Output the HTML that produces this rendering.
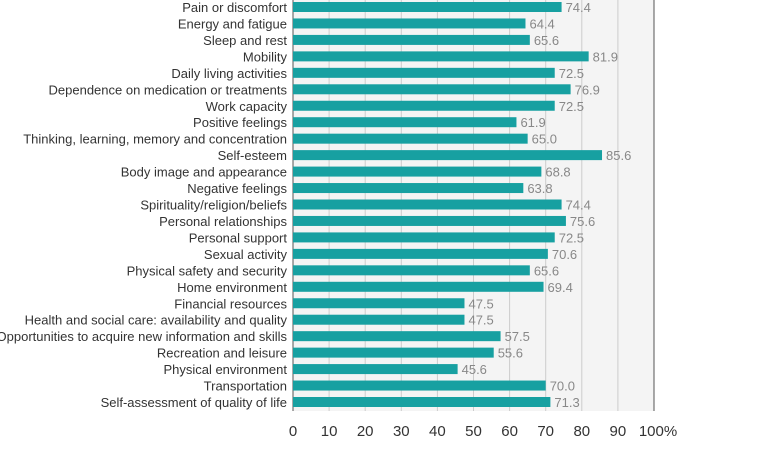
<!DOCTYPE html>
<html><head><meta charset="utf-8"><style>
body{margin:0;background:#fff;}
svg text{font-family:"Liberation Sans",sans-serif;}
</style></head><body>
<svg id="c" width="771" height="451"></svg>
<script>
const categories=["Pain or discomfort","Energy and fatigue","Sleep and rest","Mobility","Daily living activities","Dependence on medication or treatments","Work capacity","Positive feelings","Thinking, learning, memory and concentration","Self-esteem","Body image and appearance","Negative feelings","Spirituality/religion/beliefs","Personal relationships","Personal support","Sexual activity","Physical safety and security","Home environment","Financial resources","Health and social care: availability and quality","Opportunities to acquire new information and skills","Recreation and leisure","Physical environment","Transportation","Self-assessment of quality of life"];
const values=[74.4,64.4,65.6,81.9,72.5,76.9,72.5,61.9,65.0,85.6,68.8,63.8,74.4,75.6,72.5,70.6,65.6,69.4,47.5,47.5,57.5,55.6,45.6,70.0,71.3];
const ticks=[0,10,20,30,40,50,60,70,80,90,100];
const NS="http://www.w3.org/2000/svg";
const svg=document.getElementById('c');
const x0=293,x1=654,yTop=0,yBot=411;
const step=(402-7)/(categories.length-1);
const xs=v=>x0+(x1-x0)*v/100;
const ys=i=>7+i*step;
function el(t,a){const e=document.createElementNS(NS,t);for(const k in a)e.setAttribute(k,a[k]);svg.appendChild(e);return e;}
let bg=el('rect',{x:x0,y:yTop,width:x1-x0,height:yBot-yTop,fill:'#f4f4f4'});


ticks.forEach(t=>{
 let g=el('line',{x1:xs(t),x2:xs(t),y1:yTop,y2:yBot,stroke:t===100?'#555':'#ccc','stroke-width':1});
 
 
 let l=el('text',{x:xs(t)+(t===100?4:0),y:436,'text-anchor':'middle','font-size':15,fill:'#333'});
 l.textContent=t===100?'100%':t;
 
 
});
let ax=el('line',{x1:x0,x2:x0,y1:yTop,y2:yBot,stroke:'#555','stroke-width':1});


categories.forEach((c,i)=>{
 const y=ys(i);
 let b=el('rect',{x:x0,y:y-5,width:xs(values[i])-x0,height:10,fill:'#17a0a1'});
 
 
 let v=el('text',{x:xs(values[i])+4,y:y+5,'font-size':13,fill:'#888'});
 v.textContent=values[i].toFixed(1);
 
 
 let t=el('text',{x:x0-6,y:y+5,'text-anchor':'end','font-size':13,fill:'#333'});
 t.textContent=c;
 
 
});
</script>
</body></html>
